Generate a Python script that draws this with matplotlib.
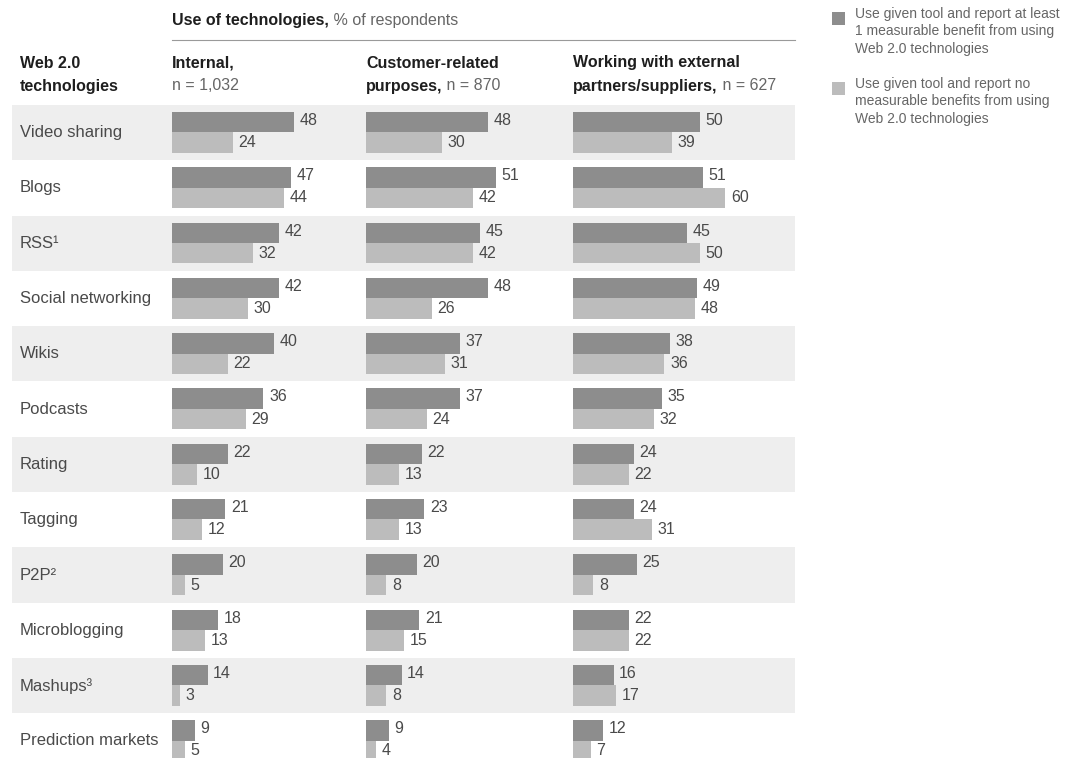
import numpy as np
import matplotlib.pyplot as plt

plt.rcParams['font.family'] = ['Liberation Sans', 'DejaVu Sans']

# Web 2.0 tools and share of respondents using them
technologies = ['Video sharing', 'Blogs', 'RSS¹', 'Social networking', 'Wikis', 'Podcasts',
                'Rating', 'Tagging', 'P2P²', 'Microblogging', 'Mashups³', 'Prediction markets']

# "at least 1 measurable benefit" (dark) / "no measurable benefits" (light)
internal_benefit = [48, 47, 42, 42, 40, 36, 22, 21, 20, 18, 14, 9]
internal_none = [24, 44, 32, 30, 22, 29, 10, 12, 5, 13, 3, 5]
customer_benefit = [48, 51, 45, 48, 37, 37, 22, 23, 20, 21, 14, 9]
customer_none = [30, 42, 42, 26, 31, 24, 13, 13, 8, 15, 8, 4]
partner_benefit = [50, 51, 45, 49, 38, 35, 24, 24, 25, 22, 16, 12]
partner_none = [39, 60, 50, 48, 36, 32, 22, 31, 8, 22, 17, 7]

panel_titles = [('Internal,', '', 'n = 1,032'),
                ('Customer-related', 'purposes,', ' n = 870'),
                ('Working with external', 'partners/suppliers,', ' n = 627')]
legend_labels = ['Use given tool and report at least\n1 measurable benefit from using\nWeb 2.0 technologies',
                 'Use given tool and report no\nmeasurable benefits from using\nWeb 2.0 technologies']

DARK = '#8d8d8d'
LIGHT = '#bcbcbc'
BAND = '#eeeeee'
TEXT = '#4a4a4a'
HEAD = '#1e1e1e'
SUB = '#666666'

W, H = 1076, 758
fig = plt.figure(figsize=(W / 100, H / 100), dpi=100)


def fx(px):
    return px / W


def fy(py):
    return 1 - py / H


top_px, row_px = 105, 55.3
rows = np.arange(len(technologies))
y_bottom = (H - top_px) / row_px - 0.5

# background bands + row labels
bg = fig.add_axes([0, 0, 1, fy(top_px)])
bg.set_xlim(0, W)
bg.set_ylim(y_bottom, -0.5)
bg.axis('off')
for i in rows[::2]:
    bg.axhspan(i - 0.5, i + 0.5, xmin=12 / W, xmax=795 / W, color=BAND, lw=0)
for i, name in zip(rows, technologies):
    bg.text(20, i, name, va='center', ha='left', fontsize=12, color=TEXT)

# three bar panels
px_per_unit = 2.54
panel_left = [172, 366, 573]
panel_w = 180
series = [(internal_benefit, internal_none),
          (customer_benefit, customer_none),
          (partner_benefit, partner_none)]

for left, (dark, light) in zip(panel_left, series):
    ax = fig.add_axes([fx(left), 0, panel_w / W, fy(top_px)])
    ax.set_xlim(0, panel_w / px_per_unit)
    ax.set_ylim(y_bottom, -0.5)
    ax.axis('off')
    ax.barh(rows - 0.19, dark, height=0.37, color=DARK, lw=0)
    ax.barh(rows + 0.18, light, height=0.37, color=LIGHT, lw=0)
    for i in rows:
        ax.annotate(str(dark[i]), (dark[i], i - 0.22), xytext=(4, 0), textcoords='offset points',
                    va='center', ha='left', fontsize=11.5, color=TEXT, annotation_clip=False)
        ax.annotate(str(light[i]), (light[i], i + 0.18), xytext=(4, 0), textcoords='offset points',
                    va='center', ha='left', fontsize=11.5, color=TEXT, annotation_clip=False)

# header
t = fig.text(fx(172), fy(20), 'Use of technologies,', fontsize=11.5, fontweight='bold',
             color=HEAD, va='center', ha='left')
fig.add_artist(plt.Line2D([fx(172), fx(795)], [fy(40), fy(40)], color='#9a9a9a', lw=0.8))
bg.annotate(' % of respondents', xy=(1, 0), xycoords=t, va='bottom', ha='left',
            fontsize=11.5, color=SUB, annotation_clip=False)

fig.text(fx(20), fy(63), 'Web 2.0', fontsize=11.5, fontweight='bold', color=HEAD, va='center')
fig.text(fx(20), fy(86), 'technologies', fontsize=11.5, fontweight='bold', color=HEAD, va='center')
for left, (line1, line2b, line2n) in zip(panel_left, panel_titles):
    fig.text(fx(left), fy(63), line1, fontsize=11.5, fontweight='bold', color=HEAD, va='center')
    if line2b:
        tb = fig.text(fx(left), fy(86), line2b, fontsize=11.5, fontweight='bold', color=HEAD,
                      va='center')
        bg.annotate(line2n, xy=(1, 0), xycoords=tb, va='bottom', ha='left',
                    fontsize=11.5, color=SUB, annotation_clip=False)
    else:
        fig.text(fx(left), fy(86), line2n, fontsize=11.5, color=SUB, va='center')

# legend
for ytop, col, lab in zip([12, 82], [DARK, LIGHT], legend_labels):
    fig.add_artist(plt.Rectangle((fx(832), fy(ytop + 13)), 13 / W, 13 / H, color=col, lw=0))
    fig.text(fx(855), fy(ytop - 5), lab, fontsize=10, color=SUB, va='top', ha='left',
             linespacing=1.3)

fig.savefig('out.png', dpi=100)
